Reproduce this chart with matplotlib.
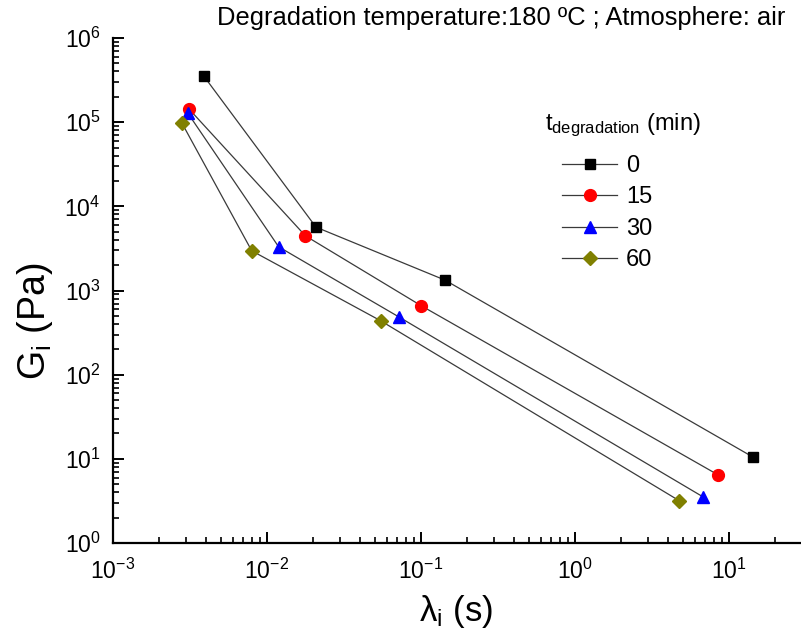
import numpy as np
import matplotlib
matplotlib.use("Agg")
import matplotlib.pyplot as plt
from matplotlib.ticker import LogLocator, NullFormatter

plt.rcParams['font.family'] = ['Liberation Sans', 'DejaVu Sans']
plt.rcParams['mathtext.fontset'] = 'custom'
plt.rcParams['mathtext.rm'] = 'Liberation Sans'
plt.rcParams['mathtext.it'] = 'Liberation Sans'

# relaxation spectrum (lambda_i in s, G_i in Pa) per degradation time
times = ["0", "15", "30", "60"]
lam_0 = [0.0039, 0.0208, 0.143, 14.3]
g_0 = [3.5e5, 5660, 1330, 10.5]
lam_15 = [0.00312, 0.01775, 0.1005, 8.53]
g_15 = [1.43e5, 4465, 658, 6.42]
lam_30 = [0.00307, 0.0119, 0.0716, 6.75]
g_30 = [1.27e5, 3305, 487, 3.55]
lam_60 = [0.00279, 0.00796, 0.0547, 4.75]
g_60 = [9.9e4, 2963, 437, 3.18]

x_major = [1e-3, 1e-2, 1e-1, 1e0, 1e1]
y_major = [1e0, 1e1, 1e2, 1e3, 1e4, 1e5, 1e6]

series = [(lam_0, g_0), (lam_15, g_15), (lam_30, g_30), (lam_60, g_60)]
markers = ['s', 'o', '^', 'D']
colors = ['#000000', '#ff0000', '#0000ff', '#808000']
msizes = [7.5, 8.5, 8.5, 7]

W, H = 801, 638
fig = plt.figure(figsize=(W / 100, H / 100), dpi=100)
left, bottom, top = 113, 543, 38
decade_x = 154.0
ax = fig.add_axes([left / W, 1 - bottom / H, (W - left) / W, (bottom - top) / H])

for (lam, g), m, c, ms, t in zip(series, markers, colors, msizes, times):
    ax.plot(lam, g, color='#3a3a3a', lw=0.9, marker=m, ms=ms,
            mfc=c, mec=c, label=t, zorder=3)

ax.set_xscale('log')
ax.set_yscale('log')
ax.set_xticks(x_major)
ax.set_yticks(y_major)
ax.xaxis.set_minor_locator(LogLocator(base=10, subs=np.arange(2, 10), numticks=20))
ax.yaxis.set_minor_locator(LogLocator(base=10, subs=np.arange(2, 10), numticks=20))
ax.xaxis.set_minor_formatter(NullFormatter())
ax.yaxis.set_minor_formatter(NullFormatter())
ax.set_xlim(1e-3, 10 ** ((W - left) / decade_x - 3))
ax.set_ylim(1, 1e6)

for side in ('top', 'right'):
    ax.spines[side].set_visible(False)
for side in ('left', 'bottom'):
    ax.spines[side].set_linewidth(1.6)

ax.tick_params(which='major', direction='in', length=8, width=1.4,
               labelsize=16.5)
ax.tick_params(which='minor', direction='in', length=4.5, width=1.2)
ax.tick_params(axis='x', which='major', pad=11)
ax.tick_params(axis='y', which='major', pad=9)

ax.set_xlabel(r'$\mathregular{\lambda_i}$ (s)', fontsize=25)
ax.set_ylabel(r'$\mathregular{G_i}$ (Pa)', fontsize=27)
ax.xaxis.set_label_coords(0.4985, -0.1)
ax.yaxis.set_label_coords(-0.085, 0.44)

fig.text(785 / W, 1 - 18 / H, 'Degradation temperature:180 ºC ; Atmosphere: air',
         fontsize=18.4, ha='right', va='center')

# legend heading sits a little left of the entries
fig.text(545 / W, 1 - 125 / H, r't$_\mathregular{degradation}$ (min)',
         fontsize=17, ha='left', va='center')
ax.legend(frameon=False, loc='upper left', bbox_to_anchor=(562 / W, 1 - 155 / H),
          bbox_transform=fig.transFigure, fontsize=17,
          handlelength=2.35, handletextpad=0.35, labelspacing=0.4,
          borderaxespad=0, borderpad=0)

fig.savefig('out.png', dpi=100)
